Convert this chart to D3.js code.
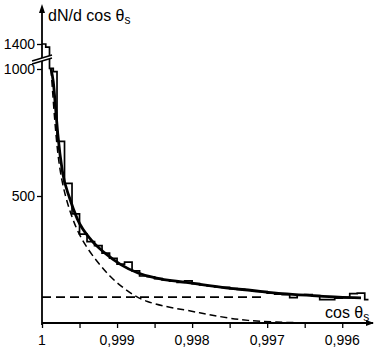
<!DOCTYPE html>
<html>
<head>
<meta charset="utf-8">
<script src="https://cdn.jsdelivr.net/npm/d3@7"></script>
<style>
  body { margin: 0; background: #fff; }
  svg text { font-family: "Liberation Sans Narrow", "Liberation Sans", Arial, sans-serif; fill: #000; }
</style>
</head>
<body>
<div id="chart"></div>
<script>
// data
const xTicks = [1, 0.999, 0.998, 0.997, 0.996];
const xTickLabels = ["1", "0,999", "0,998", "0,997", "0,996"];
const xMinor = [0.9995, 0.9985, 0.9975, 0.9965];
const yTicks = [500, 1000, 1400];
const yTickLabels = ["500", "1000", "1400"];

// histogram: bin edges (cos θs) and counts
const binEdges = [1, 0.99995, 0.9999, 0.99985, 0.9998, 0.9997, 0.9996, 0.9995, 0.9994, 0.9993,
  0.9992, 0.9991, 0.999, 0.9989, 0.9988, 0.9987, 0.9986, 0.9985, 0.9984, 0.9983, 0.9982,
  0.9981, 0.998, 0.9979, 0.9978, 0.9977, 0.9976, 0.9975, 0.9974, 0.9973, 0.9972, 0.9971,
  0.997, 0.9969, 0.9968, 0.9967, 0.9966, 0.9965, 0.9964, 0.9963, 0.9962, 0.9961, 0.996,
  0.9959, 0.9958, 0.9957, 0.99565];
const binCounts = [1400, 1350, 1010, 990, 715, 550, 430, 350, 320, 305, 275, 255, 232, 240,
  205, 185, 182, 175, 170, 165, 160, 166, 155, 150, 146, 142, 140, 135, 132, 130, 126, 124,
  118, 114, 112, 100, 110, 112, 108, 92, 92, 98, 100, 116, 118, 92];

// smooth fitted curve
const fitCos = [0.99988, 0.99985, 0.99982, 0.99979, 0.99973, 0.99963, 0.99953, 0.99934,
  0.99916, 0.99895, 0.99872, 0.99849, 0.99808, 0.9976, 0.9972, 0.9968, 0.9964, 0.99605, 0.99575];
const fitVal = [1000, 950, 850, 745, 600, 490, 410, 325, 275, 230, 197, 178, 160, 140, 128,
  116, 108, 102, 99];

// dashed steep curve
const dashCos = [0.99988, 0.999813, 0.999747, 0.999627, 0.99948, 0.999253, 0.999093,
  0.998947, 0.998787, 0.998613, 0.998333, 0.998107, 0.997893, 0.99772, 0.997493, 0.997267,
  0.99696, 0.99656];
const dashVal = [1000, 720, 563, 433, 327, 236, 182, 145, 110, 84, 63, 52, 40, 30, 18, 10, 4, 1];

// flat background level
const bgLevel = 102;
const bgEnd = 0.99705;

const width = 375;
const height = 352;

const svg = d3.select("#chart")
  .append("svg")
  .attr("width", width)
  .attr("height", height);

// scales (axis broken above 1000)
const x = d3.scaleLinear().domain([1, 0.99559]).range([42, 373]);
const y = d3.scaleLinear().domain([0, 1000, 1400]).range([323, 69, 44]);

// horizontal background line
svg.append("line")
  .attr("x1", x(1)).attr("x2", x(bgEnd))
  .attr("y1", y(bgLevel)).attr("y2", y(bgLevel))
  .attr("stroke", "#000").attr("stroke-width", 1.8)
  .attr("stroke-dasharray", "9,5");

// dashed curve
const dashData = dashCos.map((c, i) => [c, dashVal[i]]);
svg.append("path")
  .datum(dashData)
  .attr("fill", "none")
  .attr("stroke", "#000")
  .attr("stroke-width", 1.5)
  .attr("stroke-dasharray", "7,4")
  .attr("d", d3.line().x(d => x(d[0])).y(d => y(d[1])).curve(d3.curveBasis));

// fit curve
const fitData = fitCos.map((c, i) => [c, fitVal[i]]);
svg.append("path")
  .datum(fitData)
  .attr("fill", "none")
  .attr("stroke", "#000")
  .attr("stroke-width", 2.8)
  .attr("d", d3.line().x(d => x(d[0])).y(d => y(d[1])).curve(d3.curveMonotoneX));

// histogram steps
const histPts = [];
binCounts.forEach((v, i) => {
  histPts.push([binEdges[i], v]);
  histPts.push([binEdges[i + 1], v]);
});
svg.append("path")
  .datum(histPts)
  .attr("fill", "none")
  .attr("stroke", "#000")
  .attr("stroke-width", 1.7)
  .attr("d", d3.line().x(d => x(d[0])).y(d => y(d[1])));

// axes
const xAxis = svg.append("g")
  .attr("transform", `translate(0, ${y(0)})`)
  .call(d3.axisBottom(x).tickValues(xTicks.concat(xMinor)).tickSize(5).tickFormat(""));
xAxis.select(".domain").remove();
xAxis.selectAll("line").attr("stroke-width", 1.3);

svg.append("line")
  .attr("x1", x(1)).attr("x2", 373)
  .attr("y1", y(0)).attr("y2", y(0))
  .attr("stroke", "#000").attr("stroke-width", 1.8);
svg.append("path")
  .attr("d", `M374,${y(0)} L366,${y(0) - 3} L366,${y(0) + 3} Z`)
  .attr("fill", "#000");

svg.selectAll(".xlab")
  .data(xTicks)
  .enter()
  .append("text")
  .attr("class", "xlab")
  .attr("x", d => x(d))
  .attr("y", 345)
  .attr("text-anchor", "middle")
  .attr("font-size", 14)
  .text((d, i) => xTickLabels[i]);

const yAxis = svg.append("g")
  .attr("transform", `translate(${x(1)}, 0)`)
  .call(d3.axisLeft(y).tickValues(yTicks).tickSize(5).tickFormat(""));
yAxis.select(".domain").remove();
yAxis.selectAll("line").attr("stroke-width", 1.3);

svg.append("line")
  .attr("x1", x(1)).attr("x2", x(1))
  .attr("y1", y(0) + 2).attr("y2", 9)
  .attr("stroke", "#000").attr("stroke-width", 1.8);
svg.append("path")
  .attr("d", `M${x(1)},4 L${x(1) - 3},13 L${x(1) + 3},13 Z`)
  .attr("fill", "#000");

svg.selectAll(".ylab")
  .data(yTicks)
  .enter()
  .append("text")
  .attr("class", "ylab")
  .attr("x", 35)
  .attr("y", d => y(d) + 5)
  .attr("text-anchor", "end")
  .attr("font-size", 14)
  .text((d, i) => yTickLabels[i]);

// axis break
svg.append("path")
  .attr("d", "M32,61 L52,55 L52,58 L32,64 Z")
  .attr("fill", "#fff");
svg.append("line").attr("x1", 32).attr("y1", 61).attr("x2", 52).attr("y2", 55)
  .attr("stroke", "#000").attr("stroke-width", 1.4);
svg.append("line").attr("x1", 32).attr("y1", 64).attr("x2", 52).attr("y2", 58)
  .attr("stroke", "#000").attr("stroke-width", 1.4);

// axis titles
const yTitle = svg.append("text")
  .attr("x", 48)
  .attr("y", 21)
  .attr("font-size", 16);
yTitle.append("tspan").text("dN/d cos θ");
yTitle.append("tspan").attr("font-size", 12).attr("dy", 3).text("s");

const xTitle = svg.append("text")
  .attr("x", 325)
  .attr("y", 318)
  .attr("font-size", 16);
xTitle.append("tspan").text("cos θ");
xTitle.append("tspan").attr("font-size", 12).attr("dy", 3).text("s");
</script>
</body>
</html>
